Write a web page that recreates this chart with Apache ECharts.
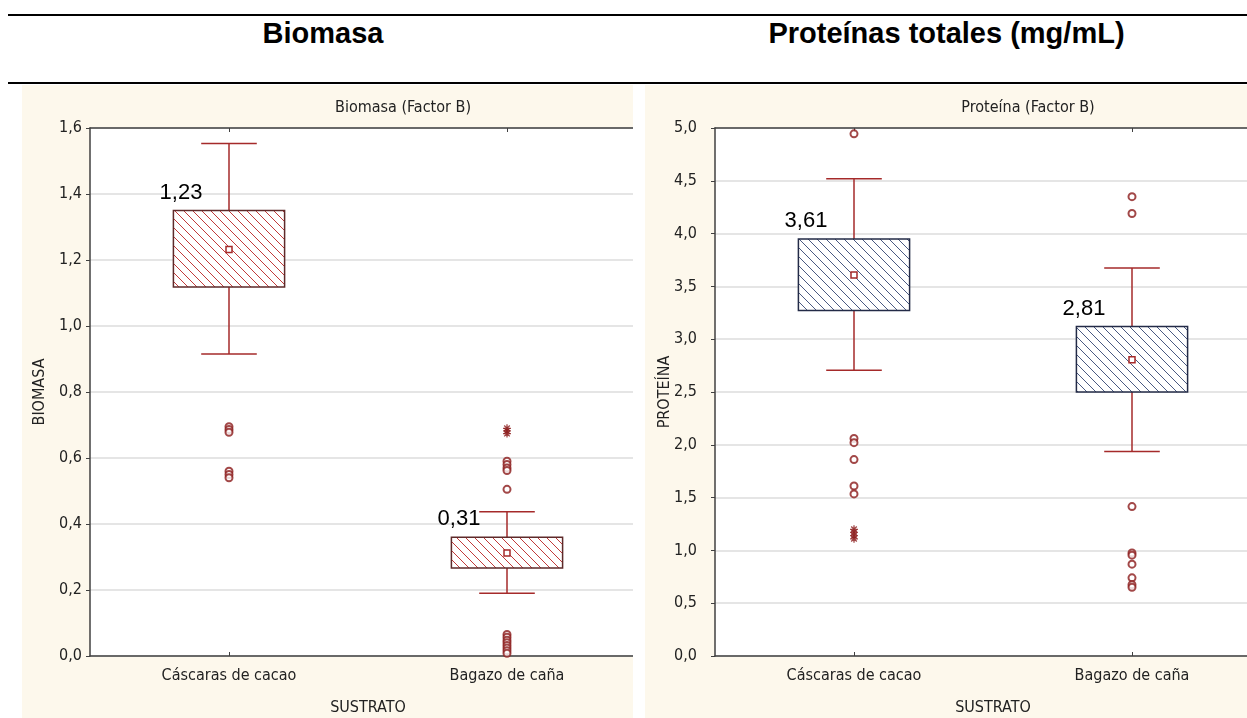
<!DOCTYPE html>
<html>
<head>
<meta charset="utf-8">
<script src="https://cdn.jsdelivr.net/npm/echarts@6/dist/echarts.min.js"></script>
<style>
  html, body { margin:0; padding:0; background:#fff; }
  body { width:1247px; height:718px; position:relative; overflow:hidden; }
  .hline { position:absolute; background:#000; }
  .hdr { position:absolute; top:17px; height:32px; line-height:32px; text-align:center;
         font-family:'Liberation Sans', Arial, sans-serif; font-weight:bold; font-size:29px; color:#000; }
  .panel { position:absolute; top:85px; height:633px; overflow:hidden; background:#fdf8ec; }
  .chart { position:absolute; left:0; top:0; width:720px; height:633px; }
</style>
</head>
<body>
<div class="hline" style="left:8px;top:14px;width:1239px;height:2px;"></div>
<div class="hdr" style="left:0;width:646px;">Biomasa</div>
<div class="hdr" style="left:646px;width:601px;">Proteínas totales (mg/mL)</div>
<div class="hline" style="left:8px;top:82px;width:1239px;height:2px;"></div>
<div class="panel" style="left:22px;width:611px;"><div id="c1" class="chart"></div></div>
<div class="panel" style="left:645px;width:602px;"><div id="c2" class="chart"></div></div>
<script>
// ---------- DATA ----------
const categories = ['Cáscaras de cacao', 'Bagazo de caña'];

// Biomasa (Factor B)
const bioWhiskerLow  = [0.915, 0.190];
const bioQ1          = [1.118, 0.267];
const bioQ3          = [1.350, 0.360];
const bioWhiskerHigh = [1.553, 0.437];
const bioMean        = [1.232, 0.312];
const bioMeanLabels  = ['1,23', '0,31'];
const bioOutliersCacao  = [0.695, 0.686, 0.678, 0.560, 0.550, 0.540];
const bioOutliersBagazo = [0.590, 0.580, 0.570, 0.562, 0.505, 0.065, 0.057, 0.048, 0.040, 0.032, 0.024, 0.016, 0.008];
const bioExtremesCacao  = [];
const bioExtremesBagazo = [0.690, 0.682, 0.674];
const bioTicks = [0, 1.6, 0.2];

// Proteína (Factor B)
const protWhiskerLow  = [2.706, 1.937];
const protQ1          = [3.272, 2.500];
const protQ3          = [3.950, 3.120];
const protWhiskerHigh = [4.520, 3.674];
const protMean        = [3.607, 2.805];
const protMeanLabels  = ['3,61', '2,81'];
const protOutliersCacao  = [4.945, 2.060, 2.020, 1.860, 1.610, 1.535];
const protOutliersBagazo = [4.350, 4.190, 1.415, 0.975, 0.955, 0.870, 0.740, 0.675, 0.650];
const protExtremesCacao  = [1.200, 1.170, 1.140, 1.110];
const protExtremesBagazo = [];
const protTicks = [0, 5.0, 0.5];

// ---------- STYLE ----------
const NARROW = "'Liberation Sans Narrow', 'Arial Narrow', 'DejaVu Sans Condensed', sans-serif";
const WHISKER = '#a52a2a';
const POINT = '#8b1a1a';

function hatch(color) {
  const s = 9;
  const c = document.createElement('canvas');
  c.width = s; c.height = s;
  const g = c.getContext('2d');
  g.fillStyle = '#ffffff'; g.fillRect(0, 0, s, s);
  g.strokeStyle = color; g.lineWidth = 1;
  g.beginPath();
  g.moveTo(-1, -1); g.lineTo(s + 1, s + 1);
  g.moveTo(-1, s - 1); g.lineTo(1, s + 1);
  g.moveTo(s - 1, -1); g.lineTo(s + 1, 1);
  g.stroke();
  return c;
}

function buildOption(cfg) {
  const boxData = categories.map((c, i) => [i, cfg.low[i], cfg.q1[i], cfg.q3[i], cfg.high[i], cfg.mean[i]]);
  const outData = [];
  cfg.outliers.forEach((arr, i) => arr.forEach(v => outData.push([i, v])));
  const extData = [];
  cfg.extremes.forEach((arr, i) => arr.forEach(v => extData.push([i, v])));
  const pattern = hatch(cfg.hatchColor);
  const fmt = v => v.toFixed(1).replace('.', ',');

  return {
    animation: false,
    backgroundColor: 'transparent',
    graphic: [{
      type: 'text', x: cfg.gridLeft + 313, y: 23,
      style: { text: cfg.title, font: '16px ' + NARROW, fill: '#222', textAlign: 'center', textVerticalAlign: 'middle' }
    }],
    grid: { left: cfg.gridLeft, top: 43, width: 556, height: 528, show: true, backgroundColor: '#fff',
            borderWidth: 0, containLabel: false, outerBoundsMode: 'none' },
    xAxis: [{
      type: 'category', data: categories, position: 'bottom',
      axisLine: { lineStyle: { color: '#404040', width: 1.5 } },
      axisTick: { show: true, inside: true, alignWithLabel: true, length: 4, lineStyle: { color: '#404040' } },
      axisLabel: { color: '#222', fontFamily: NARROW, fontSize: 16, margin: 12 },
      name: 'SUSTRATO', nameLocation: 'middle', nameGap: 44, nameMoveOverlap: false,
      nameTextStyle: { color: '#222', fontFamily: NARROW, fontSize: 16 }
    }, {
      type: 'category', data: categories, position: 'top',
      axisLine: { lineStyle: { color: '#404040', width: 1.5 } },
      axisTick: { show: true, inside: true, alignWithLabel: true, length: 4, lineStyle: { color: '#404040' } },
      axisLabel: { show: false }
    }],
    yAxis: {
      type: 'value', min: cfg.ticks[0], max: cfg.ticks[1], interval: cfg.ticks[2],
      axisLine: { show: true, lineStyle: { color: '#404040', width: 1.5 } },
      axisTick: { show: true, length: 4, lineStyle: { color: '#404040' } },
      axisLabel: { color: '#222', fontFamily: NARROW, fontSize: 16, margin: cfg.labelMargin, formatter: fmt },
      splitLine: { show: true, lineStyle: { color: '#dcdcdc', width: 1.5 } },
      name: cfg.yName, nameLocation: 'middle', nameGap: cfg.nameGap, nameMoveOverlap: false,
      nameTextStyle: { color: '#222', fontFamily: NARROW, fontSize: 16 }
    },
    series: [{
      type: 'custom',
      data: boxData,
      encode: { x: 0, y: [1, 2, 3, 4, 5] },
      z: 3,
      renderItem: function (params, api) {
        const i = api.value(0);
        const x = api.coord([i, 0])[0];
        const yLow = api.coord([i, api.value(1)])[1];
        const yQ1 = api.coord([i, api.value(2)])[1];
        const yQ3 = api.coord([i, api.value(3)])[1];
        const yHigh = api.coord([i, api.value(4)])[1];
        const yMean = api.coord([i, api.value(5)])[1];
        const band = api.size([1, 0])[0];
        const bw = band * 0.4, cw = band * 0.2;
        const ls = { stroke: WHISKER, lineWidth: 1.5 };
        return {
          type: 'group',
          children: [
            { type: 'line', shape: { x1: x, y1: yQ3, x2: x, y2: yHigh }, style: ls },
            { type: 'line', shape: { x1: x, y1: yQ1, x2: x, y2: yLow }, style: ls },
            { type: 'line', shape: { x1: x - cw / 2, y1: yHigh, x2: x + cw / 2, y2: yHigh }, style: ls },
            { type: 'line', shape: { x1: x - cw / 2, y1: yLow, x2: x + cw / 2, y2: yLow }, style: ls },
            { type: 'rect', shape: { x: x - bw / 2, y: yQ3, width: bw, height: yQ1 - yQ3 },
              style: { fill: { image: pattern, repeat: 'repeat' }, stroke: cfg.boxBorder, lineWidth: 1.5 } },
            { type: 'rect', shape: { x: x - 3, y: yMean - 3, width: 6, height: 6 },
              style: { fill: '#fff', stroke: WHISKER, lineWidth: 1.5 } },
            { type: 'text', x: x - 48, y: yQ3 - 18,
              style: { text: cfg.meanLabels[i], font: '22px "Liberation Sans", Arial, sans-serif', fill: '#000',
                       textAlign: 'center', textVerticalAlign: 'middle' } }
          ]
        };
      }
    }, {
      type: 'scatter', data: outData, z: 4,
      symbol: 'emptyCircle', symbolSize: 7,
      itemStyle: { color: POINT, borderColor: POINT, borderWidth: 1.6 }
    }, {
      type: 'scatter', data: extData, z: 4,
      symbol: 'path://M0,5L10,5M5,0L5,10M1.5,1.5L8.5,8.5M8.5,1.5L1.5,8.5', symbolSize: 8,
      itemStyle: { color: 'transparent', borderColor: POINT, borderWidth: 1.3 }
    }]
  };
}

const c1 = echarts.init(document.getElementById('c1'), null, { renderer: 'canvas' });
c1.setOption(buildOption({
  title: 'Biomasa (Factor B)', yName: 'BIOMASA', gridLeft: 68, labelMargin: 8, nameGap: 42,
  low: bioWhiskerLow, q1: bioQ1, q3: bioQ3, high: bioWhiskerHigh, mean: bioMean, meanLabels: bioMeanLabels,
  outliers: [bioOutliersCacao, bioOutliersBagazo], extremes: [bioExtremesCacao, bioExtremesBagazo],
  ticks: bioTicks, hatchColor: '#c23a3a', boxBorder: '#5e2a2a'
}));

const c2 = echarts.init(document.getElementById('c2'), null, { renderer: 'canvas' });
c2.setOption(buildOption({
  title: 'Proteína (Factor B)', yName: 'PROTEÍNA', gridLeft: 70, labelMargin: 18, nameGap: 42,
  low: protWhiskerLow, q1: protQ1, q3: protQ3, high: protWhiskerHigh, mean: protMean, meanLabels: protMeanLabels,
  outliers: [protOutliersCacao, protOutliersBagazo], extremes: [protExtremesCacao, protExtremesBagazo],
  ticks: protTicks, hatchColor: '#4a5a82', boxBorder: '#232b47'
}));
</script>
</body>
</html>
